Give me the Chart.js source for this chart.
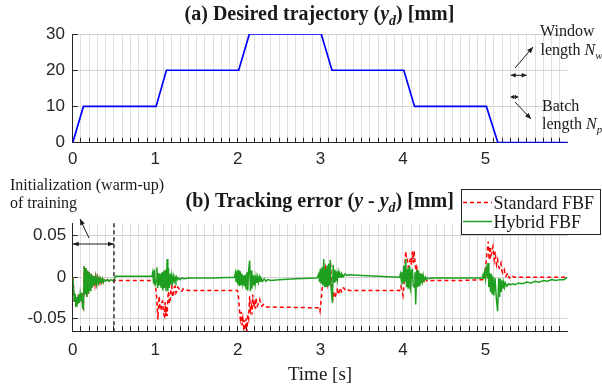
<!DOCTYPE html>
<html>
<head>
<meta charset="utf-8">
<script src="https://cdn.jsdelivr.net/npm/chart.js@4.4.1/dist/chart.umd.min.js"></script>
<style>
html,body{margin:0;padding:0;background:#fff;}
#wrap{position:relative;width:602px;height:385px;overflow:hidden;background:#fff;}
#wrap canvas{position:absolute;left:0;top:0;}
</style>
</head>
<body>
<div id="wrap"><canvas id="cTop" width="602" height="385"></canvas><canvas id="cBot" width="602" height="385"></canvas></div>
<script>
// ---------------- DATA ----------------
const xMajorTicks = [0, 1, 2, 3, 4, 5];
const xTickLabels = ['0', '1', '2', '3', '4', '5'];
const topYTicks = [0, 10, 20, 30];
const topYLabels = ['0', '10', '20', '30'];
const botYTicks = [-0.05, 0, 0.05];
const botYLabels = ['-0.05', '0', '0.05'];
const seriesNames = ['Standard FBF', 'Hybrid FBF'];

// desired trajectory [t (s), y_d (mm)]
const trajectory = [[0,0],[0.13,10],[1.01,10],[1.135,20],[2.01,20],[2.14,30],[3.01,30],[3.14,20],[4.01,20],[4.14,10],[5.01,10],[5.15,0],[5.99,0]];

// warm-up part (identical for both methods) [t, error mm]
const warmUpErr = [[0,0],[0.01,-0.012],[0.02,-0.03],[0.03,-0.02],[0.04,-0.035],[0.05,-0.024],[0.06,-0.033],[0.07,-0.021],[0.08,-0.031],[0.09,-0.02],[0.1,-0.029],[0.11,-0.019],[0.12,-0.036],[0.13,-0.038],[0.14,0.013],[0.15,-0.02],[0.16,0.011],[0.17,-0.024],[0.18,0.008],[0.19,-0.02],[0.2,0.006],[0.21,-0.016],[0.22,0.004],[0.23,-0.013],[0.24,0.002],[0.25,-0.011],[0.26,0.001],[0.27,-0.009],[0.28,0],[0.29,-0.008],[0.3,-0.001],[0.31,-0.007],[0.32,-0.002],[0.33,-0.007],[0.34,-0.002],[0.35,-0.006],[0.36,-0.002],[0.37,-0.006],[0.38,-0.003],[0.4,-0.005],[0.42,-0.003],[0.44,-0.005],[0.46,-0.003],[0.48,-0.004],[0.5,-0.004]];

const standardFBF = warmUpErr.concat([
[0.52,-0.004],[0.97,-0.004],[0.99,-0.006],[1.005,-0.012],[1.019,-0.027],[1.031,-0.051],[1.047,-0.023],[1.06,-0.04],[1.072,-0.039],[1.08,-0.03],[1.088,-0.029],[1.1,-0.044],[1.112,-0.047],[1.12,-0.03],[1.128,-0.047],[1.136,-0.035],[1.144,-0.047],[1.152,-0.025],[1.161,-0.017],[1.171,-0.032],[1.181,-0.027],[1.191,-0.014],[1.201,-0.011],[1.211,-0.024],[1.221,-0.021],[1.231,-0.012],[1.241,-0.011],[1.251,-0.019],[1.262,-0.017],[1.272,-0.012],[1.282,-0.013],[1.3,-0.017],[1.322,-0.017],[1.34,-0.014],[1.363,-0.015],[1.4,-0.016],[1.99,-0.016],
[2.0,-0.017],[2.01,-0.026],[2.02,-0.04],[2.03,-0.05],[2.04,-0.042],[2.05,-0.058],[2.06,-0.05],[2.07,-0.06],[2.08,-0.052],[2.09,-0.068],[2.1,-0.05],[2.11,-0.066],[2.12,-0.045],[2.13,-0.05],[2.143,-0.023],[2.153,-0.04],[2.163,-0.035],[2.172,-0.045],[2.18,-0.021],[2.19,-0.036],[2.204,-0.031],[2.212,-0.038],[2.22,-0.025],[2.235,-0.035],[2.245,-0.033],[2.255,-0.03],[2.265,-0.027],[2.28,-0.034],[2.293,-0.035],[2.31,-0.033],[2.33,-0.036],[2.985,-0.037],
[2.995,-0.041],[3.01,-0.027],[3.025,-0.009],[3.04,-0.001],[3.06,0.011],[3.072,0],[3.082,-0.007],[3.092,0.008],[3.102,0.014],[3.112,0.008],[3.122,0.018],[3.135,-0.01],[3.15,-0.029],[3.16,-0.017],[3.172,-0.025],[3.183,-0.023],[3.193,-0.017],[3.203,-0.015],[3.213,-0.021],[3.223,-0.019],[3.234,-0.014],[3.244,-0.013],[3.254,-0.018],[3.264,-0.017],[3.274,-0.013],[3.284,-0.013],[3.3,-0.016],[3.325,-0.015],[3.35,-0.016],[3.96,-0.016],
[3.975,-0.011],[3.99,-0.017],[4.0,-0.022],[4.01,-0.012],[4.02,0.01],[4.033,0.031],[4.043,0.02],[4.053,0.021],[4.063,0.012],[4.073,0.013],[4.083,0.02],[4.093,0.023],[4.103,0.015],[4.114,0.031],[4.126,0.017],[4.134,0.032],[4.142,0.022],[4.15,0.013],[4.158,0.009],[4.166,0.012],[4.174,0.005],[4.184,0.004],[4.194,-0.001],[4.204,-0.002],[4.214,-0.005],[4.225,-0.001],[4.235,0],[4.245,-0.004],[4.255,-0.005],[4.265,-0.002],[4.275,-0.001],[4.285,-0.004],[4.296,-0.005],[4.35,-0.004],[4.7,-0.004],[4.99,-0.003],
[5.0,-0.002],[5.005,0.017],[5.017,0.029],[5.032,0.043],[5.044,0.021],[5.056,0.037],[5.065,0.026],[5.073,0.029],[5.081,0.034],[5.089,0.037],[5.097,0.028],[5.105,0.021],[5.117,0.031],[5.125,0.02],[5.133,0.015],[5.14,0.019],[5.146,0.021],[5.156,0.013],[5.166,0.011],[5.176,0.014],[5.186,0.017],[5.197,0.008],[5.207,0.005],[5.217,0.007],[5.227,0.009],[5.237,0.003],[5.247,0.001],[5.257,0.003],[5.267,0.005],[5.278,0.001],[5.288,-0.001],[5.308,0.002],[5.35,0],[5.99,0]
]);

const hybridFBF = warmUpErr.concat([
[0.52,0.001],[0.7,0.001],[0.96,0.001],
[0.97,0.006],[0.98,-0.008],[0.99,0.009],[1.0,-0.011],[1.01,-0.004],[1.02,0.012],[1.03,-0.013],[1.04,0.005],[1.05,-0.01],[1.06,0.004],[1.07,-0.012],[1.08,0.006],[1.09,-0.016],[1.1,0.007],[1.11,-0.013],[1.12,0.009],[1.13,-0.017],[1.144,0.022],[1.152,-0.017],[1.16,0.011],[1.17,-0.013],[1.18,0.004],[1.19,-0.009],[1.2,0.002],[1.21,-0.006],[1.22,0.001],[1.23,-0.005],[1.24,0],[1.25,-0.004],[1.26,0],[1.27,-0.003],[1.28,-0.001],[1.3,-0.003],[1.32,-0.001],[1.35,-0.002],[1.4,-0.001],[1.7,-0.001],[1.96,0],
[1.97,0.005],[1.98,-0.006],[1.99,0.008],[2.0,-0.009],[2.01,0.009],[2.02,-0.011],[2.03,0.007],[2.04,-0.009],[2.05,0.004],[2.06,-0.007],[2.07,0.002],[2.08,-0.011],[2.09,0.003],[2.1,-0.014],[2.11,0.006],[2.12,-0.016],[2.13,0.008],[2.143,0.02],[2.152,-0.017],[2.16,0.008],[2.17,-0.014],[2.18,0.003],[2.19,-0.01],[2.2,0.002],[2.21,-0.008],[2.22,0.001],[2.23,-0.007],[2.24,0],[2.25,-0.006],[2.26,0],[2.27,-0.005],[2.28,-0.001],[2.3,-0.005],[2.32,-0.002],[2.34,-0.005],[2.36,-0.003],[2.4,-0.004],[2.5,-0.003],[2.7,-0.002],[2.96,-0.001],
[2.98,0.004],[2.99,-0.006],[3.0,0.01],[3.01,-0.008],[3.02,0.012],[3.03,-0.01],[3.04,0.022],[3.05,-0.012],[3.06,0.01],[3.07,-0.012],[3.08,0.014],[3.09,-0.012],[3.1,0.016],[3.11,-0.01],[3.12,0.021],[3.13,-0.015],[3.145,-0.031],[3.155,0.015],[3.165,-0.006],[3.175,0.009],[3.185,-0.005],[3.195,0.007],[3.205,-0.003],[3.215,0.006],[3.225,-0.001],[3.235,0.005],[3.25,0],[3.26,0.004],[3.28,0.001],[3.3,0.004],[3.32,0.002],[3.35,0.003],[3.5,0.002],[3.7,0.001],[3.96,0],
[3.97,0.004],[3.98,-0.004],[3.99,0.006],[4.0,-0.008],[4.01,0.014],[4.02,-0.006],[4.033,0.022],[4.043,-0.012],[4.053,0.01],[4.063,-0.014],[4.073,0.013],[4.083,-0.012],[4.093,-0.016],[4.103,0.008],[4.114,0.009],[4.124,-0.01],[4.134,-0.012],[4.145,0.006],[4.154,-0.033],[4.166,0.009],[4.175,-0.012],[4.185,0.008],[4.195,-0.01],[4.205,0.005],[4.215,-0.008],[4.225,0.004],[4.235,-0.005],[4.245,0.002],[4.255,-0.004],[4.27,0],[4.28,-0.003],[4.3,-0.001],[4.32,-0.002],[4.35,-0.001],[4.7,-0.001],[4.96,-0.001],
[4.97,0.003],[4.98,-0.002],[4.99,0.006],[5.0,-0.002],[5.01,0.01],[5.02,0.004],[5.03,0.017],[5.04,-0.012],[5.05,0.005],[5.06,-0.018],[5.07,0.004],[5.08,-0.02],[5.09,0.001],[5.1,-0.022],[5.115,-0.001],[5.13,-0.025],[5.146,-0.041],[5.16,-0.001],[5.17,-0.024],[5.18,-0.002],[5.19,-0.018],[5.2,-0.004],[5.21,-0.014],[5.22,-0.006],[5.23,-0.012],[5.24,-0.007],[5.26,-0.011],[5.28,-0.008],[5.3,-0.009],[5.33,-0.008],[5.36,-0.009],[5.4,-0.007],[5.45,-0.008],[5.5,-0.006],[5.55,-0.007],[5.6,-0.005],[5.65,-0.006],[5.7,-0.004],[5.75,-0.005],[5.8,-0.003],[5.85,-0.004],[5.9,-0.003],[5.95,-0.003],[5.99,0]
]);

const warmUpEnd = 0.5;

// ---------------- STYLE ----------------
const SANS = '"Liberation Sans", Arial, Helvetica, sans-serif';
const SERIF = '"Liberation Serif", "Times New Roman", Times, serif';
const INK = '#262626';
const TXT = '#1a1a1a';
const BLUE = '#0000ff', RED = '#ff0000', GREEN = '#1f9f1f';
const X_MIN = 0, X_MAX = 5.99, X_STEP = 0.1;
const TICK_FONT = {family: SANS, size: 17};

const xGridTicks = [];
for (let k = 0; k * X_STEP <= X_MAX + 1e-9; k++) xGridTicks.push(Math.round(k) / 10);

const toXY = arr => arr.map(p => ({x: p[0], y: p[1]}));

function xScale(axisH, pad) {
  return {
    type: 'linear', min: X_MIN, max: X_MAX,
    afterFit: s => { s.height = axisH; },
    afterBuildTicks: s => { s.ticks = xGridTicks.map(v => ({value: v})); },
    ticks: {
      autoSkip: false, maxRotation: 0, minRotation: 0, padding: pad, color: INK, font: TICK_FONT,
      callback: v => { const i = xMajorTicks.indexOf(Math.round(v * 10) / 10); return i >= 0 ? xTickLabels[i] : ''; }
    },
    grid: {color: '#dedede', lineWidth: 1, tickLength: -5, tickColor: INK, tickWidth: 1},
    border: {display: true, color: INK, width: 1}
  };
}
function yScale(min, max, tks, lbls, w, pad) {
  return {
    type: 'linear', min: min, max: max,
    afterFit: s => { s.width = w; },
    afterBuildTicks: s => { s.ticks = tks.map(v => ({value: v})); },
    ticks: {padding: pad, color: INK, font: TICK_FONT, callback: (v, i) => lbls[i]},
    grid: {color: '#d2d2d2', lineWidth: 1, tickLength: -5, tickColor: INK, tickWidth: 1},
    border: {display: true, color: INK, width: 1}
  };
}

// ---------------- DRAW HELPERS ----------------
function drawRuns(c, runs, x, y, align, color) {
  let total = 0;
  runs.forEach(r => { c.font = r[1]; total += c.measureText(r[0]).width; });
  let cx = align === 'center' ? x - total / 2 : x;
  c.fillStyle = color; c.textAlign = 'left'; c.textBaseline = 'alphabetic';
  runs.forEach(r => { c.font = r[1]; c.fillText(r[0], cx, y + (r[2] || 0)); cx += c.measureText(r[0]).width; });
}
function head(c, x1, y1, x2, y2, L, W) {
  const a = Math.atan2(y2 - y1, x2 - x1);
  c.beginPath();
  c.moveTo(x2, y2);
  c.lineTo(x2 - L * Math.cos(a) + W * Math.sin(a), y2 - L * Math.sin(a) - W * Math.cos(a));
  c.lineTo(x2 - L * Math.cos(a) - W * Math.sin(a), y2 - L * Math.sin(a) + W * Math.cos(a));
  c.closePath(); c.fill();
}
function arrow(c, x1, y1, x2, y2) {
  c.beginPath(); c.moveTo(x1, y1); c.lineTo(x2, y2); c.stroke();
  head(c, x1, y1, x2, y2, 6, 2.5);
}
function dblArrow(c, xa, xb, y, L) {
  c.beginPath(); c.moveTo(xa, y); c.lineTo(xb, y); c.stroke();
  head(c, xb, y, xa, y, L, 2.2); head(c, xa, y, xb, y, L, 2.2);
}

// ---------------- PLUGINS ----------------
const TF = 'bold 20px ' + SERIF, TFI = 'italic bold 20px ' + SERIF, TFS = 'italic bold 14px ' + SERIF;
const topDecor = {
  id: 'topDecor',
  afterDraw(chart) {
    const c = chart.ctx; c.save();
    drawRuns(c, [['(a) Desired trajectory (', TF], ['y', TFI], ['d', TFS, 5], [') [mm]', TF]], 319.5, 19.5, 'center', TXT);
    drawRuns(c, [['Window', '16px ' + SERIF]], 540, 36, 'left', TXT);
    drawRuns(c, [['length ', '16px ' + SERIF], ['N', 'italic 16px ' + SERIF], ['w', 'italic 11px ' + SERIF, 4]], 540.5, 55, 'left', TXT);
    drawRuns(c, [['Batch', '16px ' + SERIF]], 542, 111, 'left', TXT);
    drawRuns(c, [['length ', '16px ' + SERIF], ['N', 'italic 16px ' + SERIF], ['p', 'italic 11px ' + SERIF, 4]], 542, 129, 'left', TXT);
    c.strokeStyle = TXT; c.fillStyle = TXT; c.lineWidth = 1;
    arrow(c, 515, 68, 533, 47);
    dblArrow(c, 510.7, 526.7, 75.3, 5);
    dblArrow(c, 510.7, 518.3, 97, 3.5);
    arrow(c, 515, 102, 531, 119);
    c.restore();
  }
};

const botDecor = {
  id: 'botDecor',
  afterDraw(chart) {
    const c = chart.ctx, xs = chart.scales.x, area = chart.chartArea;
    c.save();
    drawRuns(c, [['(b) Tracking error (', TF], ['y', TFI], [' - ', TF], ['y', TFI], ['d', TFS, 5], [') [mm]', TF]], 319.7, 206.5, 'center', TXT);
    c.font = '19px ' + SERIF; c.fillStyle = TXT; c.textAlign = 'center'; c.textBaseline = 'alphabetic';
    c.fillText('Time [s]', (area.left + area.right) / 2, 380);
    drawRuns(c, [['Initialization (warm-up)', '16px ' + SERIF]], 10, 190, 'left', TXT);
    drawRuns(c, [['of training', '16px ' + SERIF]], 10, 207.5, 'left', TXT);
    const xw = xs.getPixelForValue(warmUpEnd);
    c.strokeStyle = '#333'; c.lineWidth = 1.5; c.setLineDash([4, 3]);
    c.beginPath(); c.moveTo(xw, area.top); c.lineTo(xw, area.bottom); c.stroke();
    c.setLineDash([]);
    c.strokeStyle = TXT; c.fillStyle = TXT; c.lineWidth = 1;
    dblArrow(c, xs.getPixelForValue(0), xw, 244, 6);
    arrow(c, 89, 238, 80, 219);
    // legend
    c.fillStyle = '#fff'; c.fillRect(461, 189, 140, 46);
    c.strokeStyle = INK; c.lineWidth = 1; c.strokeRect(461.5, 189.5, 139, 45);
    c.strokeStyle = RED; c.lineWidth = 1.5; c.setLineDash([4, 3]);
    c.beginPath(); c.moveTo(463, 202.5); c.lineTo(492, 202.5); c.stroke();
    c.setLineDash([]);
    c.strokeStyle = GREEN; c.lineWidth = 1.5;
    c.beginPath(); c.moveTo(463, 221.5); c.lineTo(492, 221.5); c.stroke();
    drawRuns(c, [[seriesNames[0], '18px ' + SERIF]], 493.5, 208.5, 'left', TXT);
    drawRuns(c, [[seriesNames[1], '18px ' + SERIF]], 493.5, 227.5, 'left', TXT);
    c.restore();
  }
};

// ---------------- CHARTS ----------------
Chart.defaults.font.family = SANS;

new Chart(document.getElementById('cTop'), {
  type: 'line',
  data: {datasets: [{label: 'y_d', data: toXY(trajectory), borderColor: BLUE, borderWidth: 1.7, pointRadius: 0, tension: 0, fill: false}]},
  options: {
    responsive: false, animation: false, devicePixelRatio: 1,
    layout: {padding: {left: 0, top: 34, right: 34.7, bottom: 205}},
    plugins: {legend: {display: false}, tooltip: {enabled: false}, title: {display: false}},
    scales: {x: xScale(37.3, 11.8), y: yScale(0, 30, topYTicks, topYLabels, 72.7, 12.7)}
  },
  plugins: [topDecor]
});

new Chart(document.getElementById('cBot'), {
  type: 'line',
  data: {datasets: [
    {label: seriesNames[0], data: toXY(standardFBF), borderColor: RED, borderWidth: 1.5, borderDash: [4, 3], pointRadius: 0, tension: 0, fill: false, order: 2},
    {label: seriesNames[1], data: toXY(hybridFBF), borderColor: GREEN, borderWidth: 1.5, pointRadius: 0, tension: 0, fill: false, order: 1}
  ]},
  options: {
    responsive: false, animation: false, devicePixelRatio: 1,
    layout: {padding: {left: 0, top: 223.3, right: 34.7, bottom: 0}},
    plugins: {legend: {display: false}, tooltip: {enabled: false}, title: {display: false}},
    scales: {x: xScale(54, 14.6), y: yScale(-0.065, 0.065, botYTicks, botYLabels, 72.7, 11.5)}
  },
  plugins: [botDecor]
});
</script>
</body>
</html>
